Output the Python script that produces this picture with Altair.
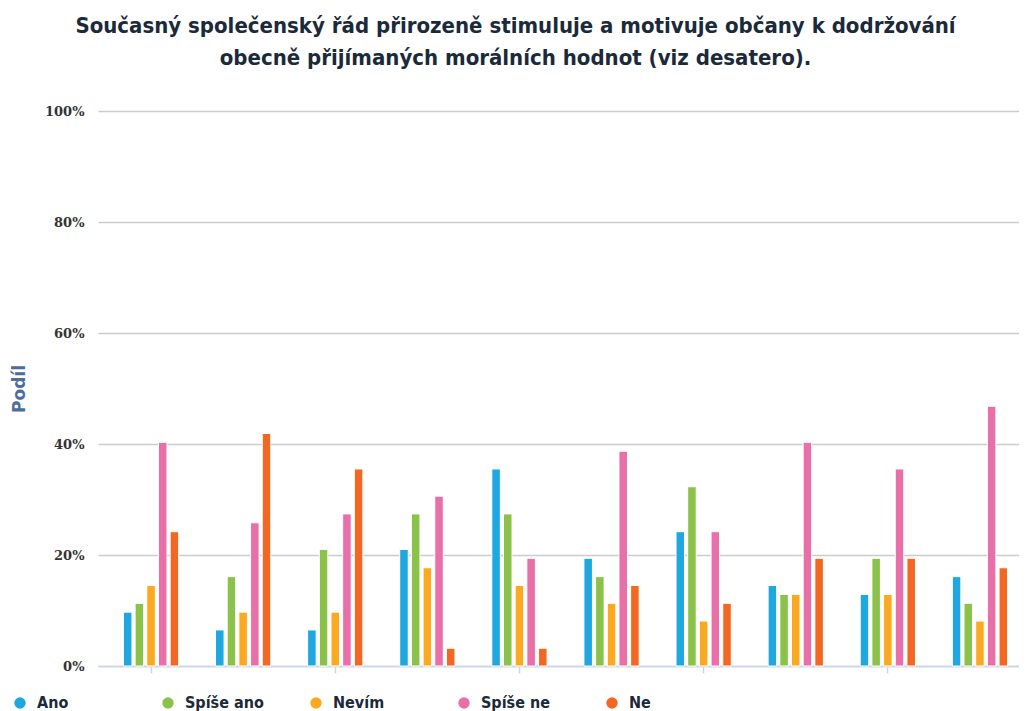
import altair as alt
import pandas as pd

groups = ["1", "2", "3", "4", "5", "6", "7", "8", "9", "10"]
series = ["Ano", "Spíše ano", "Nevím", "Spíše ne", "Ne"]
colors = ["#1fa8e0", "#8bc34a", "#fca922", "#e86fa8", "#f26722"]

ano = [9.7, 6.5, 6.5, 21.0, 35.5, 19.4, 24.2, 14.5, 12.9, 16.1]
spise_ano = [11.3, 16.1, 21.0, 27.4, 27.4, 16.1, 32.3, 12.9, 19.4, 11.3]
nevim = [14.5, 9.7, 9.7, 17.7, 14.5, 11.3, 8.1, 12.9, 12.9, 8.1]
spise_ne = [40.3, 25.8, 27.4, 30.6, 19.4, 38.7, 24.2, 40.3, 35.5, 46.8]
ne = [24.2, 41.9, 35.5, 3.2, 3.2, 14.5, 11.3, 19.4, 19.4, 17.7]

y_ticks = [0, 20, 40, 60, 80, 100]

rows = []
for name, vals in zip(series, [ano, spise_ano, nevim, spise_ne, ne]):
    for g, v in zip(groups, vals):
        rows.append({"skupina": g, "odpoved": name, "podil": v})
df = pd.DataFrame(rows)

chart = alt.Chart(df).mark_bar(stroke="white", strokeWidth=1).encode(
    x=alt.X("skupina:N", sort=groups,
            scale=alt.Scale(paddingInner=0.4, paddingOuter=0.2, align=0.69),
            axis=alt.Axis(title=None, labels=False, grid=False,
                          values=[groups[i] for i in (0, 2, 4, 6, 8)],
                          tickColor="#ccd6eb", tickSize=7, tickWidth=1.5,
                          domainColor="#ccd6eb", domainWidth=1.5)),
    xOffset=alt.XOffset("odpoved:N", sort=series,
                        scale=alt.Scale(paddingInner=0.27, paddingOuter=0)),
    y=alt.Y("podil:Q", scale=alt.Scale(domain=[0, 100], nice=False),
            axis=alt.Axis(title="Podíl", values=y_ticks,
                          labelExpr="datum.value + '%'",
                          domain=False, ticks=False, labelPadding=14,
                          gridColor="#cccccc", gridWidth=1.5,
                          labelFont="DejaVu Serif", labelFontWeight="bold",
                          labelFontSize=13, labelColor="#333333",
                          titleFont="DejaVu Sans", titleFontSize=17,
                          titleFontWeight="bold", titleColor="#4d6e99",
                          titlePadding=16)),
    color=alt.Color("odpoved:N", sort=series,
                    scale=alt.Scale(domain=series, range=colors),
                    legend=alt.Legend(title=None, orient="none",
                                      legendX=-86, legendY=584,
                                      direction="horizontal", columns=5,
                                      gridAlign="all", columnPadding=44,
                                      symbolType="circle", symbolSize=130,
                                      symbolStrokeWidth=0,
                                      labelFont="DejaVu Sans Condensed",
                                      labelFontWeight="bold", labelFontSize=16,
                                      labelColor="#1b2a3a", labelOffset=9)),
).properties(
    width=921,
    height=555,
    title=alt.TitleParams(
        text=["Současný společenský řád přirozeně stimuluje a motivuje občany k dodržování",
              "obecně přijímaných morálních hodnot (viz desatero)."],
        font="DejaVu Sans Condensed", fontSize=22, fontWeight="bold",
        color="#1b2a3a", anchor="middle", frame="group", dx=-43,
        offset=35, lineHeight=32),
    autosize=alt.AutoSizeParams(type="none"),
    padding={"left": 90, "top": 103, "right": 0, "bottom": 45},
).configure_view(stroke=None)

chart.save("out.html", embed_options={"renderer": "svg", "actions": False})
